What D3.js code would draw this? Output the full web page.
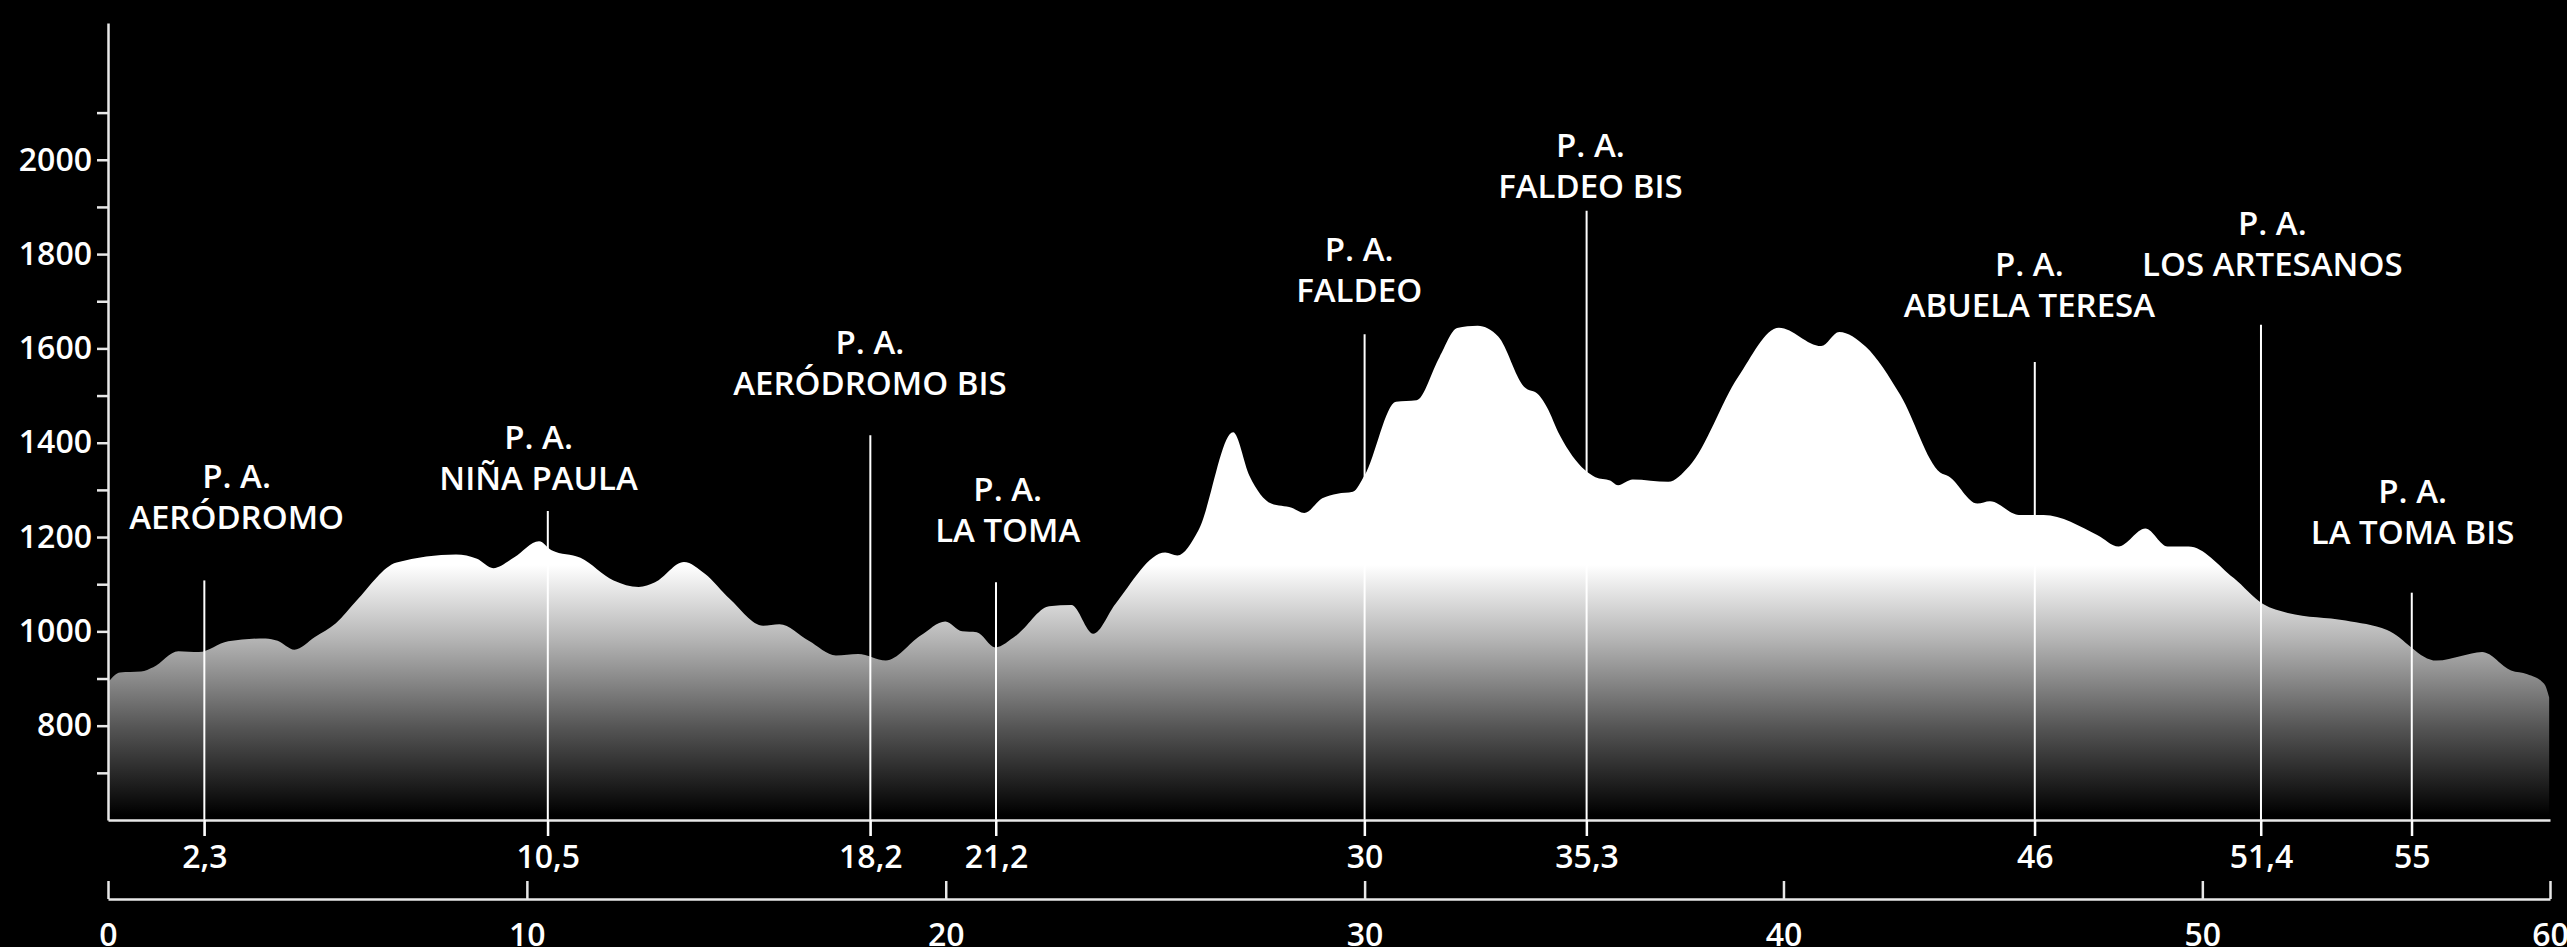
<!DOCTYPE html>
<html>
<head>
<meta charset="utf-8">
<script src="https://cdn.jsdelivr.net/npm/d3@7"></script>
<style>
  html, body { margin: 0; padding: 0; background: #000; overflow: hidden; }
  svg text { font-family: "Open Sans", sans-serif; font-weight: 600; fill: #fff; }
</style>
</head>
<body>
<div id="chart"></div>
<script>
// elevation profile (km, metres)
var profileKm = [0, 0.29, 0.79, 1.08, 1.68, 2.17, 2.87, 3.76, 4.05, 4.45, 4.94, 5.44, 5.93, 6.89, 8.31, 8.81, 9.2, 9.7,
    10.29, 10.59, 11.28, 12.07, 12.67, 13.06, 13.75, 14.25, 14.84, 15.64, 16.03, 16.73, 17.38, 17.91, 18.57, 19.4, 19.99,
    20.39, 20.74, 21.18, 21.68, 22.47, 23.0, 23.52, 24.05, 25.24, 25.53, 26.03, 26.86, 27.25, 27.77, 28.26, 28.56, 28.99,
    29.35, 29.72, 30.0, 30.75, 31.24, 31.79, 32.21, 32.7, 33.19, 33.8, 34.16, 34.35, 34.66, 35.26, 35.51, 35.86, 36.05,
    36.4, 37.25, 37.75, 38.92, 39.89, 40.9, 41.33, 41.96, 42.79, 43.74, 43.94, 44.63, 44.93, 45.62, 46.21, 47.5, 48.0,
    48.64, 49.17, 49.67, 50.75, 51.45, 52.04, 53.42, 54.41, 55.59, 56.18, 56.68, 57.37, 57.76, 58.16, 58.28];
var profileElev = [892, 913, 915, 924, 958, 956, 979, 985, 980, 961, 988, 1017, 1065, 1146, 1163, 1154, 1134, 1157,
    1191, 1172, 1156, 1108, 1094, 1104, 1147, 1122, 1069, 1012, 1015, 980, 949, 952, 938, 991, 1021,
    1000, 998, 966, 991, 1053, 1056, 995, 1058, 1167, 1161, 1214, 1422, 1330, 1271, 1262, 1251, 1282,
    1292, 1296, 1331, 1487, 1490, 1582, 1643, 1648, 1625, 1519, 1501, 1476, 1416, 1342, 1327, 1320, 1310,
    1322, 1317, 1350, 1540, 1644, 1605, 1635, 1604, 1501, 1337, 1329, 1271, 1276, 1247, 1247, 1204, 1180,
    1218, 1180, 1180, 1113, 1058, 1039, 1023, 1003, 938, 948, 956, 917, 909, 889, 860];

// aid stations ("P. A.")
var markerKm = [2.3, 10.5, 18.2, 21.2, 30, 35.3, 46, 51.4, 55];
var markerNames = ["AERÓDROMO", "NIÑA PAULA", "AERÓDROMO BIS", "LA TOMA", "FALDEO", "FALDEO BIS",
    "ABUELA TERESA", "LOS ARTESANOS", "LA TOMA BIS"];
var markerTop = [1108, 1255, 1416, 1104, 1630, 1892, 1571, 1650, 1082];
var markerLabelElev = [1242, 1325, 1526, 1214, 1724, 1945, 1693, 1780, 1210];
var markerLabelKm = [3.07, 10.28, 18.19, 21.48, 29.87, 35.39, 45.87, 51.67, 55.02];

var elevTicks = [700, 800, 900, 1000, 1100, 1200, 1300, 1400, 1500, 1600, 1700, 1800, 1900, 2000, 2100];
var kmTicks = [0, 10, 20, 30, 40, 50];
var kmTickLabels = ["0", "10", "20", "30", "40", "50", "60"];
var totalKm = 58.3;

var width = 2567, height = 947;

var x = d3.scaleLinear().domain([0, totalKm]).range([108, 2550]);
var y = d3.scaleLinear().domain([600, 2290]).range([820, 23]);

var svg = d3.select("#chart").append("svg")
    .attr("width", width)
    .attr("height", height)
    .style("background", "#000");

var grad = svg.append("defs").append("linearGradient")
    .attr("id", "fade")
    .attr("gradientUnits", "userSpaceOnUse")
    .attr("x1", 0).attr("x2", 0)
    .attr("y1", 565).attr("y2", 815);
grad.append("stop").attr("offset", 0).attr("stop-color", "#fff");
grad.append("stop").attr("offset", 0.3).attr("stop-color", "#b4b4b4");
grad.append("stop").attr("offset", 0.65).attr("stop-color", "#555");
grad.append("stop").attr("offset", 1).attr("stop-color", "#000");

var profile = profileKm.map(function (d, i) {
    return {km: d, elev: profileElev[i]};
});

var area = d3.area()
    .x(function (d) { return x(d.km); })
    .y0(y(600))
    .y1(function (d) { return y(d.elev); })
    .curve(d3.curveMonotoneX);

svg.append("path")
    .datum(profile)
    .attr("fill", "url(#fade)")
    .attr("d", area);

// station lines
var stations = markerKm.map(function (d, i) {
    return {km: d, name: markerNames[i], top: markerTop[i], labelElev: markerLabelElev[i], labelKm: markerLabelKm[i]};
});

svg.append("g").selectAll("line")
    .data(stations)
    .enter().append("line")
    .attr("x1", function (d) { return x(d.km); })
    .attr("x2", function (d) { return x(d.km); })
    .attr("y1", function (d) { return y(d.top); })
    .attr("y2", y(600) + 16)
    .attr("stroke", "#fff")
    .attr("stroke-width", 2);

var labels = svg.append("g").selectAll("g")
    .data(stations)
    .enter().append("g")
    .attr("transform", function (d) {
        return "translate(" + x(d.labelKm) + "," + (y(d.labelElev) + 12) + ")";
    })
    .attr("text-anchor", "middle")
    .style("font-size", "33px");
labels.append("text").attr("y", -41).text("P. A.");
labels.append("text").attr("y", 0).text(function (d) { return d.name; });

// station km axis
var topAxis = svg.append("g")
    .attr("transform", "translate(0," + y(600) + ")")
    .call(d3.axisBottom(x)
        .tickValues(markerKm)
        .tickSizeInner(16)
        .tickSizeOuter(0)
        .tickPadding(9)
        .tickFormat(function (d) { return String(d).replace(".", ","); }));

// distance axis
var kmVals = kmTicks.concat([totalKm]);
var bottomAxis = svg.append("g")
    .attr("transform", "translate(0,899)")
    .call(d3.axisBottom(x)
        .tickValues(kmVals)
        .tickSizeInner(-18)
        .tickSizeOuter(0)
        .tickPadding(24)
        .tickFormat(function (d, i) { return kmTickLabels[i]; }));

// elevation axis
var leftAxis = svg.append("g")
    .attr("transform", "translate(108,0)")
    .call(d3.axisLeft(y)
        .tickValues(elevTicks)
        .tickSizeInner(11)
        .tickSizeOuter(0)
        .tickPadding(5)
        .tickFormat(function (d) { return (d % 200 === 0) ? d : ""; }));

[topAxis, bottomAxis, leftAxis].forEach(function (g) {
    g.selectAll("path, line").attr("stroke", "#e8e8e8").attr("stroke-width", 2.5);
    g.selectAll("text").style("font-size", "32px").attr("fill", "#fff");
});
topAxis.selectAll("line").attr("stroke", "#fff").attr("stroke-width", 2);
</script>
</body>
</html>
